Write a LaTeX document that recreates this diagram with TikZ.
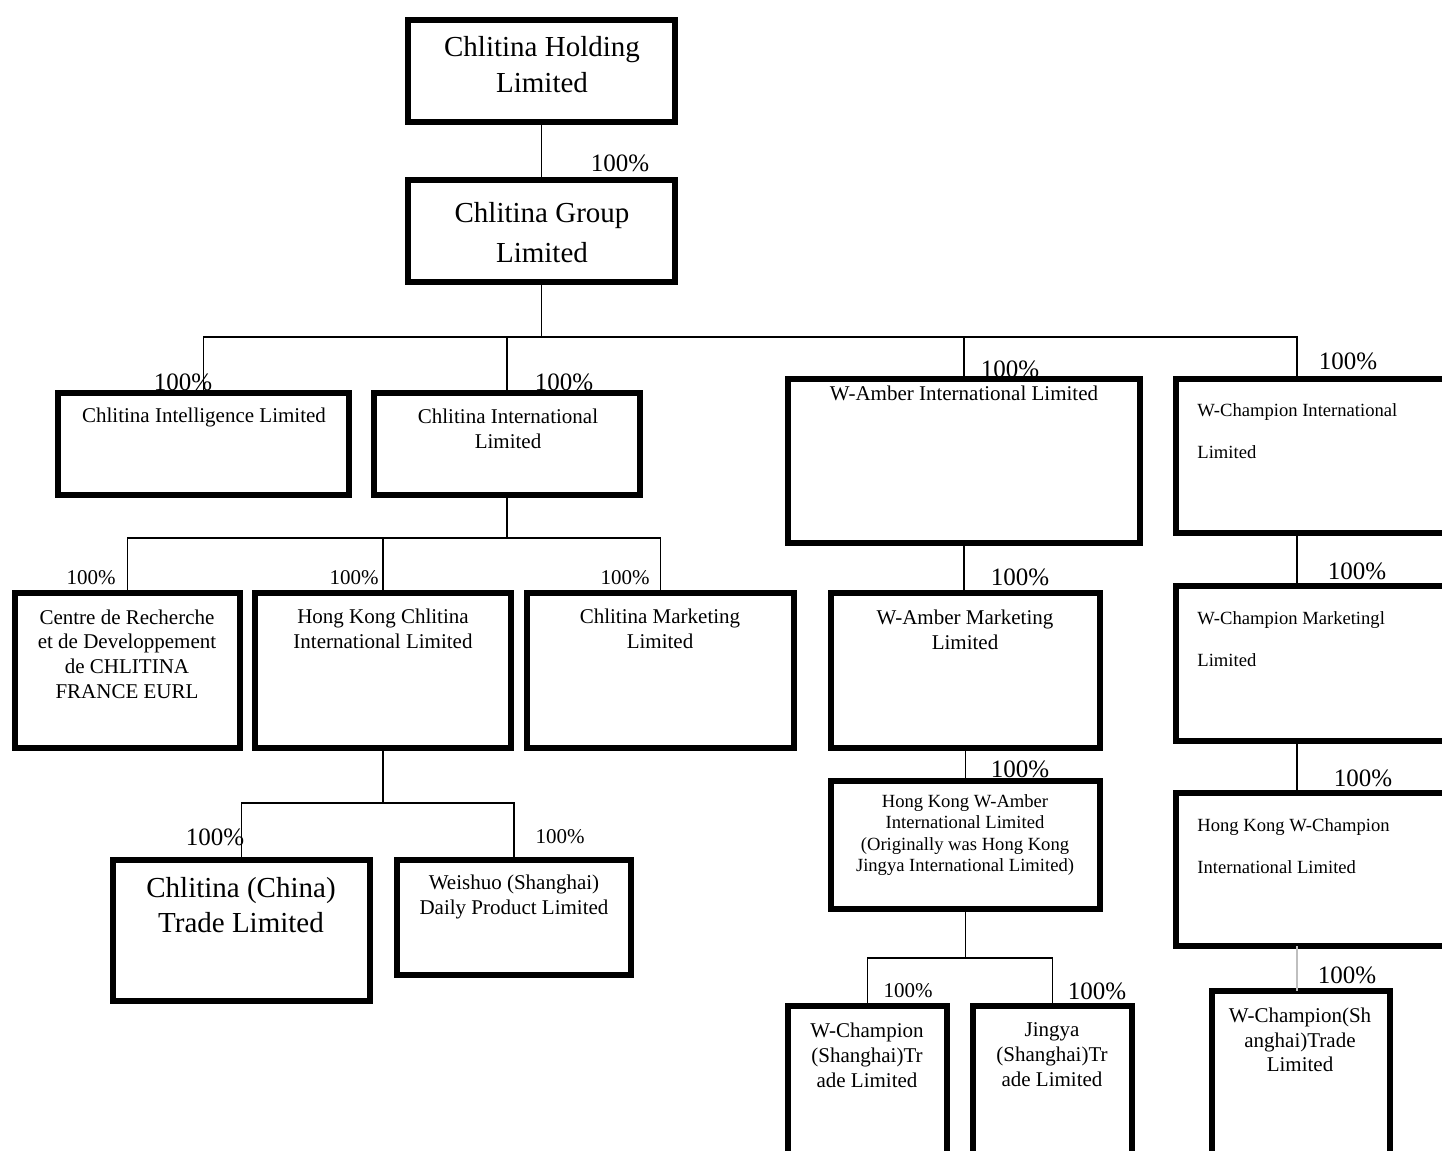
\documentclass[tikz,border=0pt]{standalone}
\usepackage{fontspec}
\setmainfont{Liberation Serif}
\usetikzlibrary{calc}
\tikzset{
  orgbox/.style={draw, line width=3pt, inner sep=0pt, outer sep=0pt, anchor=north west, fill=white},
  conn/.style={line width=0.9pt},
  connlight/.style={line width=0.9pt, draw=black!25},
  txt/.style={align=center, inner sep=0pt, font=\fontsize{10.5}{12.3}\selectfont},
  txtl/.style={align=left, anchor=west, inner sep=0pt, font=\fontsize{9.3}{21}\selectfont},
  txtbig/.style={align=center, inner sep=0pt, font=\fontsize{14.5}{18}\selectfont},
  txtsmall/.style={align=center, inner sep=0pt, font=\fontsize{9.3}{10.6}\selectfont},
  pct/.style={inner sep=0pt, font=\fontsize{12.5}{14}\selectfont},
  pcts/.style={inner sep=0pt, font=\fontsize{10.5}{12}\selectfont},
}
\newcommand\obox[5]{\node[orgbox, minimum width={(#4-#2)*0.5pt}, minimum height={(#5-#3)*0.5pt}] (#1) at (#2,#3) {};}
\begin{document}
\begin{tikzpicture}[x=0.5pt,y=-0.5pt]
\useasboundingbox (0,0) rectangle (1442,1151);
\fill[white] (0,0) rectangle (1442,1151);
\clip (0,0) rectangle (1442,1151);

% ---- junction coordinates ----
\coordinate (bus1) at (542,337);
\coordinate (bus2) at (508,538);
\coordinate (bus3) at (383,803);
\coordinate (bus4) at (965,958);
\coordinate (wcx) at (1297,0);

% ---- boxes ----
\obox{hold}{408}{20}{675}{122}
\obox{group}{408}{180}{675}{282}
\obox{intel}{58}{393}{349}{495}
\obox{cint}{374}{393}{640}{495}
\obox{wai}{788}{379}{1140}{543}
\obox{wci}{1176}{379}{1460}{533}
\obox{centre}{15}{593}{240}{748}
\obox{hkc}{255}{593}{511}{748}
\obox{cmkt}{527}{593}{794}{748}
\obox{ctrade}{113}{860}{370}{1001}
\obox{weishuo}{397}{860}{631}{975}
\obox{wam}{831}{593}{1100}{748}
\obox{hkwa}{831}{781}{1100}{909}
\obox{wcst}{788}{1006}{947}{1170}
\obox{jingya}{973}{1006}{1132}{1170}
\obox{wcm}{1176}{586}{1460}{741}
\obox{hkwc}{1176}{793}{1460}{946}
\obox{wcsh}{1212}{991}{1390}{1170}

% ---- connectors ----
\draw[conn] (hold.south) -- (hold.south |- group.north);
\draw[conn] (group.south) -- (group.south |- bus1);
\draw[conn] (intel.north) -- (intel.north |- bus1) -- (bus1 -| wcx) -- (wci.north -| wcx);
\draw[conn] (cint.north) -- (cint.north |- bus1);
\draw[conn] (wai.north) -- (wai.north |- bus1);

\draw[conn] (cint.south) -- (cint.south |- bus2);
\draw[conn] (centre.north) -- (centre.north |- bus2) -- (bus2 -| cmkt.north) -- (cmkt.north);
\draw[conn] (hkc.north) -- (hkc.north |- bus2);

\draw[conn] (hkc.south) -- (hkc.south |- bus3);
\draw[conn] (ctrade.north) -- (ctrade.north |- bus3) -- (bus3 -| weishuo.north) -- (weishuo.north);

\draw[conn] (wai.south) -- (wai.south |- wam.north);
\draw[conn] (wam.south) -- (wam.south |- hkwa.north);
\draw[conn] (hkwa.south) -- (hkwa.south |- bus4);
\draw[conn] (wcst.north) -- (wcst.north |- bus4) -- (bus4 -| jingya.north) -- (jingya.north);

\draw[conn] (wci.south -| wcx) -- (wcm.north -| wcx);
\draw[conn] (wcm.south -| wcx) -- (hkwc.north -| wcx);
\draw[connlight] (hkwc.south -| wcx) -- (wcsh.north -| wcx);

% ---- texts ----
\node[txtbig] (t-hold) at (542,65) {Chlitina Holding\\Limited};
\node[txtbig, font=\fontsize{14.5}{20}\selectfont] (t-group) at (542,233) {Chlitina Group\\Limited};
\node[txt] (t-intel) at (204,417) {Chlitina Intelligence Limited};
\node[txt] (t-cint) at (508,429) {Chlitina International\\Limited};
\node[txt] (t-wai) at (964,393) {W-Amber International Limited};
\node[txtl] (t-wci) at (1197,431) {W-Champion International\\Limited};
\node[txt] (t-centre) at (127,654) {Centre de Recherche\\et de Developpement\\de CHLITINA\\FRANCE EURL};
\node[txt] (t-hkc) at (383,629) {Hong Kong Chlitina\\International Limited};
\node[txt] (t-cmkt) at (660,629) {Chlitina Marketing\\Limited};
\node[txtbig, font=\fontsize{14.5}{17.5}\selectfont] (t-ctrade) at (241,905) {Chlitina (China)\\Trade Limited};
\node[txt] (t-weishuo) at (514,897) {Weishuo (Shanghai)\\Daily Product Limited};
\node[txt] (t-wam) at (965,630) {W-Amber Marketing\\Limited};
\node[txtsmall] (t-hkwa) at (965,835) {Hong Kong W-Amber\\International Limited\\(Originally was Hong Kong\\Jingya International Limited)};
\node[txt, font=\fontsize{10.5}{12.5}\selectfont] (t-wcst) at (867,1055) {W-Champion\\(Shanghai)Tr\\ade Limited};
\node[txt, font=\fontsize{10.5}{12.5}\selectfont] (t-jingya) at (1052,1055) {Jingya\\(Shanghai)Tr\\ade Limited};
\node[txtl] (t-wcm) at (1197,639) {W-Champion Marketingl\\Limited};
\node[txtl] (t-hkwc) at (1197,846) {Hong Kong W-Champion\\International Limited};
\node[txt, font=\fontsize{10.5}{12.3}\selectfont] (t-wcsh) at (1300,1040) {W-Champion(Sh\\anghai)Trade\\Limited};

% ---- percentages ----
\node[pct] (p1) at (620,163) {100\%};
\node[pct] (p2) at (183,382) {100\%};
\node[pct] (p3) at (564,382) {100\%};
\node[pct] (p4) at (1010,369) {100\%};
\node[pct] (p5) at (1348,361) {100\%};
\node[pcts] (p6) at (91,578) {100\%};
\node[pcts] (p7) at (354,578) {100\%};
\node[pcts] (p8) at (625,578) {100\%};
\node[pct] (p9) at (215,837) {100\%};
\node[pcts] (p10) at (560,837) {100\%};
\node[pct] (p11) at (1020,577) {100\%};
\node[pct] (p12) at (1020,769) {100\%};
\node[pcts] (p13) at (908,991) {100\%};
\node[pct] (p14) at (1097,991) {100\%};
\node[pct] (p15) at (1357,571) {100\%};
\node[pct] (p16) at (1363,778) {100\%};
\node[pct] (p17) at (1347,975) {100\%};
\end{tikzpicture}
\end{document}
